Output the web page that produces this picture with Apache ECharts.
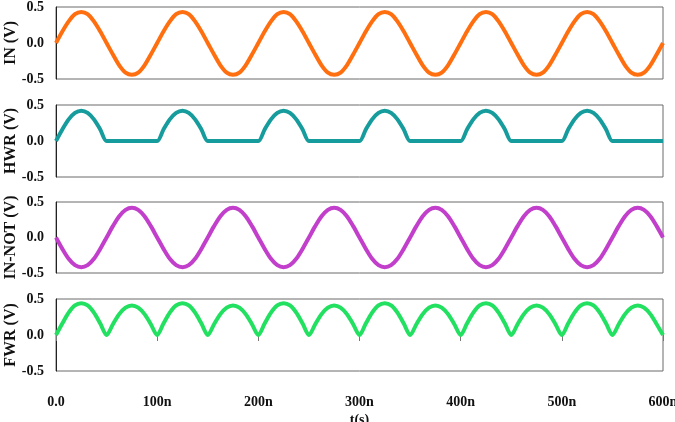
<!DOCTYPE html>
<html>
<head>
<meta charset="utf-8">
<script src="https://cdn.jsdelivr.net/npm/echarts@6/dist/echarts.min.js"></script>
<style>html,body{margin:0;padding:0;background:#fff}#c{width:675px;height:422px}</style>
</head>
<body>
<div id="c"></div>
<script>
// sample spacing in ns (grid of the readings below)
const sampleStepNs = 6.25;
const xTickLabels = ['0.0', '100n', '200n', '300n', '400n', '500n', '600n'];
const yTickLabels = {'0.5': '0.5', '0': '0.0', '-0.5': '-0.5'};
const panelNames = ['IN (V)', 'HWR (V)', 'IN-NOT (V)', 'FWR (V)'];
const colors = ['#FF6F0F', '#169C9C', '#C23FCB', '#22E060'];

const IN = [
  0, 0.16, 0.30, 0.40, 0.43, 0.40, 0.30, 0.16, 0, -0.16, -0.31, -0.41, -0.44, -0.41, -0.31, -0.16,
  0, 0.16, 0.30, 0.40, 0.43, 0.40, 0.30, 0.16, 0, -0.16, -0.31, -0.41, -0.44, -0.41, -0.31, -0.16,
  0, 0.16, 0.30, 0.40, 0.43, 0.40, 0.30, 0.16, 0, -0.16, -0.31, -0.41, -0.44, -0.41, -0.31, -0.16,
  0, 0.16, 0.30, 0.40, 0.43, 0.40, 0.30, 0.16, 0, -0.16, -0.31, -0.41, -0.44, -0.41, -0.31, -0.16,
  0, 0.16, 0.30, 0.40, 0.43, 0.40, 0.30, 0.16, 0, -0.16, -0.31, -0.41, -0.44, -0.41, -0.31, -0.16,
  0, 0.16, 0.30, 0.40, 0.43, 0.40, 0.30, 0.16, 0, -0.16, -0.31, -0.41, -0.44, -0.41, -0.31, -0.16,
  0
];
const HWR = [
  0, 0.16, 0.30, 0.39, 0.42, 0.39, 0.30, 0.16, 0, 0, 0, 0, 0, 0, 0, 0,
  0, 0.16, 0.30, 0.39, 0.42, 0.39, 0.30, 0.16, 0, 0, 0, 0, 0, 0, 0, 0,
  0, 0.16, 0.30, 0.39, 0.42, 0.39, 0.30, 0.16, 0, 0, 0, 0, 0, 0, 0, 0,
  0, 0.16, 0.30, 0.39, 0.42, 0.39, 0.30, 0.16, 0, 0, 0, 0, 0, 0, 0, 0,
  0, 0.16, 0.30, 0.39, 0.42, 0.39, 0.30, 0.16, 0, 0, 0, 0, 0, 0, 0, 0,
  0, 0.16, 0.30, 0.39, 0.42, 0.39, 0.30, 0.16, 0, 0, 0, 0, 0, 0, 0, 0,
  0
];
const IN_NOT = [
  0, -0.16, -0.30, -0.39, -0.42, -0.39, -0.30, -0.16, 0, 0.16, 0.30, 0.39, 0.42, 0.39, 0.30, 0.16,
  0, -0.16, -0.30, -0.39, -0.42, -0.39, -0.30, -0.16, 0, 0.16, 0.30, 0.39, 0.42, 0.39, 0.30, 0.16,
  0, -0.16, -0.30, -0.39, -0.42, -0.39, -0.30, -0.16, 0, 0.16, 0.30, 0.39, 0.42, 0.39, 0.30, 0.16,
  0, -0.16, -0.30, -0.39, -0.42, -0.39, -0.30, -0.16, 0, 0.16, 0.30, 0.39, 0.42, 0.39, 0.30, 0.16,
  0, -0.16, -0.30, -0.39, -0.42, -0.39, -0.30, -0.16, 0, 0.16, 0.30, 0.39, 0.42, 0.39, 0.30, 0.16,
  0, -0.16, -0.30, -0.39, -0.42, -0.39, -0.30, -0.16, 0, 0.16, 0.30, 0.39, 0.42, 0.39, 0.30, 0.16,
  0
];
const FWR = [
  0, 0.16, 0.31, 0.41, 0.44, 0.41, 0.31, 0.16, 0, 0.15, 0.29, 0.38, 0.41, 0.38, 0.29, 0.15,
  0, 0.16, 0.31, 0.41, 0.44, 0.41, 0.31, 0.16, 0, 0.15, 0.29, 0.38, 0.41, 0.38, 0.29, 0.15,
  0, 0.16, 0.31, 0.41, 0.44, 0.41, 0.31, 0.16, 0, 0.15, 0.29, 0.38, 0.41, 0.38, 0.29, 0.15,
  0, 0.16, 0.31, 0.41, 0.44, 0.41, 0.31, 0.16, 0, 0.15, 0.29, 0.38, 0.41, 0.38, 0.29, 0.15,
  0, 0.16, 0.31, 0.41, 0.44, 0.41, 0.31, 0.16, 0, 0.15, 0.29, 0.38, 0.41, 0.38, 0.29, 0.15,
  0, 0.16, 0.31, 0.41, 0.44, 0.41, 0.31, 0.16, 0, 0.15, 0.29, 0.38, 0.41, 0.38, 0.29, 0.15,
  0
];
const seriesValues = [IN, HWR, IN_NOT, FWR];

const font = "'Liberation Serif', 'Times New Roman', serif";
const gridTops = [7, 105, 202, 299];
const gridH = [72, 72, 71, 72];

const grids = [], xAxes = [], yAxes = [], series = [];
for (let i = 0; i < 4; i++) {
  grids.push({left: 56, right: 12, top: gridTops[i], height: gridH[i], show: true,
    containLabel: false, outerBoundsMode: 'none',
    borderColor: '#6a6a6a', borderWidth: 1, backgroundColor: 'transparent'});
  const last = i === 3;
  xAxes.push({
    type: 'value', gridIndex: i, min: 0, max: 600, interval: 100,
    offset: last ? 6 : 0,
    axisLine: {show: false},
    axisTick: {show: last, length: 6, lineStyle: {color: '#777', width: 1}},
    axisLabel: {show: last, margin: 18, color: '#111',
      fontFamily: font, fontWeight: 'bold', fontSize: 14,
      formatter: v => xTickLabels[Math.round(v / 100)]},
    splitLine: {show: false},
    name: last ? 't(s)' : '', nameLocation: 'middle', nameGap: 36, nameMoveOverlap: false,
    nameTextStyle: {fontFamily: font, fontWeight: 'bold', fontSize: 14, color: '#111'}
  });
  yAxes.push({
    type: 'value', gridIndex: i, min: -0.5, max: 0.5, interval: 0.5,
    axisLine: {show: true, lineStyle: {color: '#222', width: 1}},
    axisTick: {show: false},
    axisLabel: {color: '#111', fontFamily: font, fontWeight: 'bold', fontSize: 14, margin: 12,
      formatter: v => yTickLabels[String(Math.round(v * 10) / 10)] || ''},
    splitLine: {show: false},
    name: panelNames[i], nameLocation: 'middle', nameGap: 37, nameRotate: 90, nameMoveOverlap: false,
    nameTextStyle: {fontFamily: font, fontWeight: 'bold', fontSize: 16, color: '#111'}
  });
  series.push({
    type: 'line', xAxisIndex: i, yAxisIndex: i,
    data: seriesValues[i].map((v, k) => [k * sampleStepNs, v]),
    showSymbol: false, smooth: 0.3,
    lineStyle: {color: colors[i], width: 4},
    animation: false
  });
}

const chart = echarts.init(document.getElementById('c'), null, {renderer: 'canvas'});
chart.setOption({
  animation: false,
  backgroundColor: '#fff',
  grid: grids, xAxis: xAxes, yAxis: yAxes, series: series
});
</script>
</body>
</html>
